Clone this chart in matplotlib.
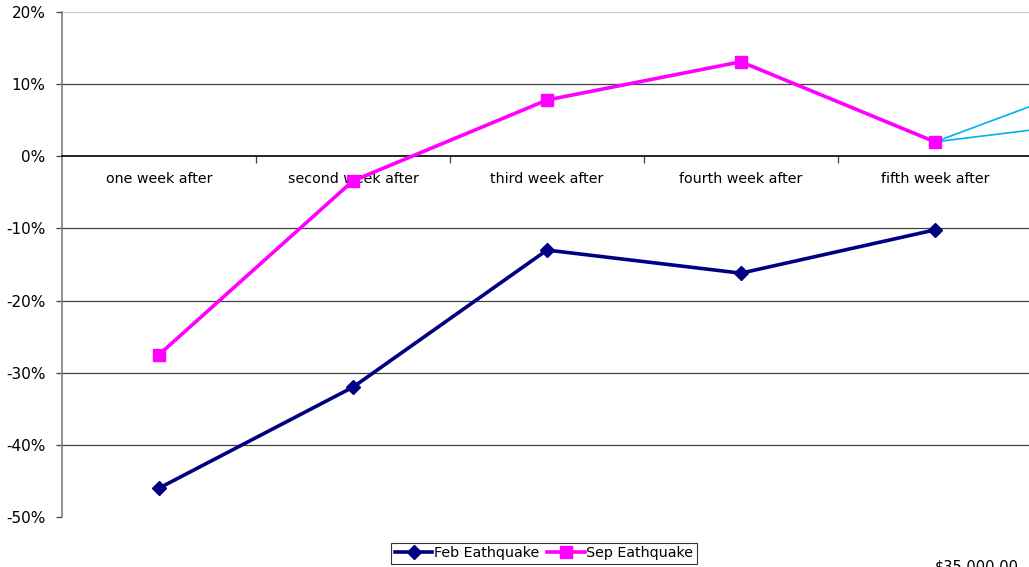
import matplotlib
matplotlib.use("Agg")
import matplotlib.pyplot as plt
from matplotlib.ticker import FuncFormatter, FixedLocator

categories = ["one week after", "second week after", "third week after",
              "fourth week after", "fifth week after"]
feb_values = [-46.0, -32.0, -13.0, -16.2, -10.2]
sep_values = [-27.5, -3.4, 7.8, 13.1, 2.0]
# partially visible extra series continuing past the fifth week (clipped)
extra_x = [4, 5]
extra_a = [2.0, 12.0]
extra_b = [2.0, 5.3]
y_ticks = [-50, -40, -30, -20, -10, 0, 10, 20]

plt.rcParams['font.family'] = ['DejaVu Sans']
fig = plt.figure(figsize=(10.29, 5.67), dpi=100)
W, H = 1029, 567
ax = fig.add_axes([62 / W, 1 - 517 / H, 970 / W, 505 / H])

x = list(range(len(categories)))
ax.plot(extra_x, extra_a, color='#00B0F0', lw=1.2, zorder=2, clip_on=False)
ax.plot(extra_x, extra_b, color='#00B0F0', lw=1.2, zorder=2, clip_on=False)
ax.plot(x, feb_values, color='#000080', lw=2.6, marker='D', markersize=7.5,
        label='Feb Eathquake', zorder=4)
ax.plot(x, sep_values, color='#FF00FF', lw=2.6, marker='s', markersize=9,
        label='Sep Eathquake', zorder=5)

ax.set_xlim(-0.5, 4.5)
ax.set_ylim(-50, 20)
ax.yaxis.set_major_locator(FixedLocator(y_ticks))
ax.yaxis.set_major_formatter(FuncFormatter(lambda v, p: f"{int(round(v))}%"))
for v in y_ticks:
    if v in (0, -50):
        continue
    ax.axhline(v, color='#d0d0d0' if v == 20 else '#404040', lw=0.9, zorder=1)

for s in ['top', 'right']:
    ax.spines[s].set_visible(False)
ax.spines['left'].set_color('#808080')
ax.spines['left'].set_linewidth(1.2)
ax.spines['bottom'].set_position(('data', 0))
ax.spines['bottom'].set_color('black')
ax.spines['bottom'].set_linewidth(1.2)
ax.spines['bottom'].set_zorder(3)

ax.set_xticks([0.5, 1.5, 2.5, 3.5])
ax.set_xticklabels([])
ax.tick_params(axis='x', direction='out', length=5, width=0.9, color='#404040')
ax.tick_params(axis='y', direction='out', length=4, width=0.9, color='#404040',
               labelsize=11, pad=8, labelcolor='black')

for i, lab in enumerate(categories):
    ax.annotate(lab, (i, 0), xytext=(0, -16.5), textcoords='offset points',
                ha='center', va='center', fontsize=10.3)

leg = fig.legend(loc='center', bbox_to_anchor=(544 / W, 1 - 553.5 / H),
                 ncol=2, fontsize=10.3, frameon=True, fancybox=False,
                 edgecolor='black', handlelength=2.6, handletextpad=0.1,
                 columnspacing=0.6, borderpad=0.25, borderaxespad=0)
leg.get_frame().set_linewidth(0.8)

fig.text(935 / W, 1 - 567 / H, "$35,000.00", fontsize=10.5, ha='left', va='center')

fig.savefig("out.png", dpi=100)
